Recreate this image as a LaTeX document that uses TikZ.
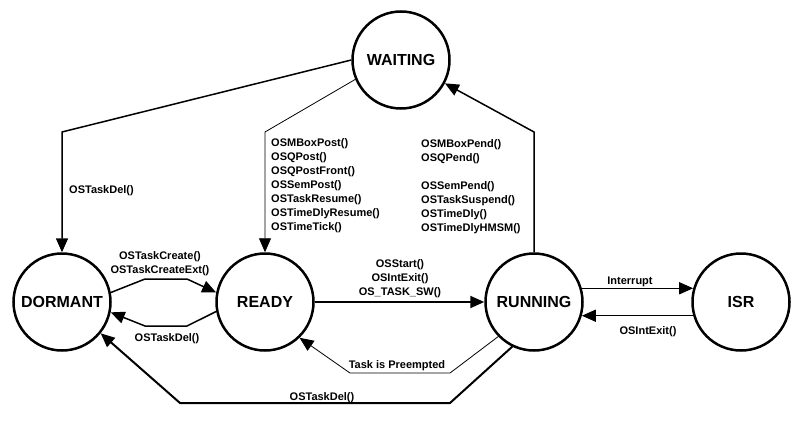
\documentclass[tikz,border=0pt]{standalone}
\usepackage{fontspec}
\setmainfont{Liberation Sans}
\usetikzlibrary{arrows.meta,positioning}

\tikzset{
  state/.style={circle, draw, line width=2.5pt, minimum size=97pt, inner sep=0pt,
    font=\fontsize{16}{18}\selectfont\bfseries},
  calls/.style={font=\fontsize{11}{14}\selectfont\bfseries, inner sep=0pt},
  trans/.style={line width=1.5pt, -{Triangle[length=14pt,width=12pt]}},
  thintrans/.style={trans, line width=0.8pt},
}

\begin{document}
\begin{tikzpicture}[x=1pt,y=-1pt]
\useasboundingbox (0,0) rectangle (800,425);
\node[state] (waiting) at (401,60) {WAITING};
\node[state] (dormant) at (62,302) {DORMANT};
\node[state] (ready) at (265,302) {READY};
\node[state] (running) at (534,302) {RUNNING};
\node[state] (isr) at (741,302) {ISR};
\coordinate (wd) at (62,132);
\coordinate (wr) at (265,132);
\coordinate (rw) at (534,132);
\coordinate (dr1) at (145,279);
\coordinate (dr2) at (187,279);
\coordinate (rd1) at (187,326);
\coordinate (rd2) at (145,326);
\coordinate (p1) at (450,373);
\coordinate (p2) at (350,373);
\coordinate (k1) at (450,403);
\coordinate (k2) at (180,403);
\draw[trans] (waiting.west) -- (wd) -- (dormant.north);
\draw[thintrans] (waiting.203) -- (wr) -- (ready.north);
\draw[trans] (running.north) -- (rw) -- (waiting.-28);
\draw[trans] (dormant.11) -- (dr1) -- (dr2) -- (ready.169);
\draw[trans] (ready.191) -- (rd1) -- (rd2) -- (dormant.-12);
\draw[trans, line width=2pt] (ready.east) -- (running.west);
\draw[thintrans] (running.224) -- (p1) -- (p2) -- (ready.-46);
\draw[trans, line width=2pt] (running.244) -- (k1) -- (k2) -- (dormant.-39);
\draw[trans] (running.16) -- (isr.164);
\draw[trans] (isr.196) -- (running.-16);
% labels
\node[calls, anchor=west] at (69,191) {OSTaskDel()};
\node[calls, anchor=north west, align=left] at (271,138)
  {OSMBoxPost()\\OSQPost()\\OSQPostFront()\\OSSemPost()\\OSTaskResume()\\OSTimeDlyResume()\\OSTimeTick()};
\node[calls, anchor=north west, align=left] at (421,139)
  {OSMBoxPend()\\OSQPend()\\[14pt]OSSemPend()\\OSTaskSuspend()\\OSTimeDly()\\OSTimeDlyHMSM()};
\node[calls, anchor=south, align=center] at (160,276) {OSTaskCreate()\\OSTaskCreateExt()};
\node[calls] at (167,339) {OSTaskDel()};
\node[calls, anchor=south, align=center] at (400,298) {OSStart()\\OSIntExit()\\OS\_TASK\_SW()};
\node[calls, anchor=south] at (397,371) {Task is Preempted};
\node[calls, anchor=south] at (322,403) {OSTaskDel()};
\node[calls, anchor=south] at (630,287) {Interrupt};
\node[calls] at (648,332) {OSIntExit()};
\end{tikzpicture}
\end{document}
